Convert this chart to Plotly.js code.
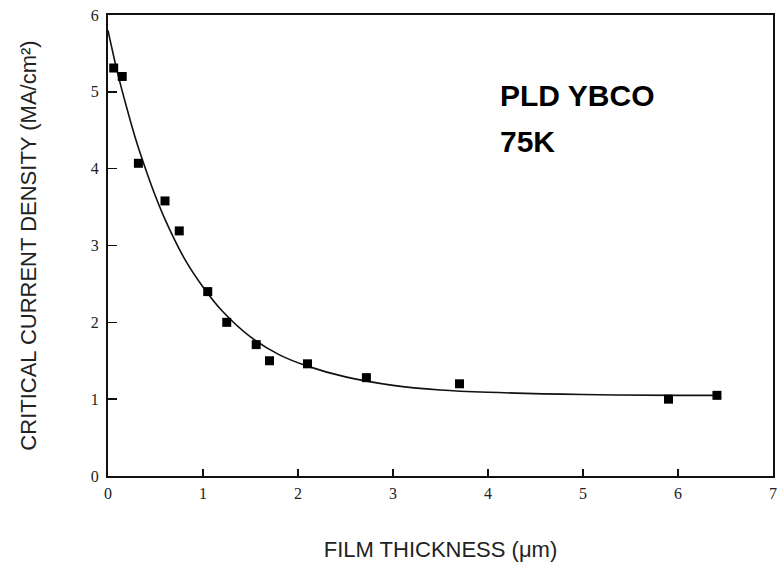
<!DOCTYPE html>
<html>
<head>
<meta charset="utf-8">
<script src="https://cdn.plot.ly/plotly-3.0.1.min.js"></script>
<style>html,body{margin:0;padding:0;background:#fff;}#chart{width:780px;height:564px;}</style>
</head>
<body>
<div id="chart"></div>
<script>
// Measured data points
const thickness = [0.06, 0.15, 0.32, 0.60, 0.75, 1.05, 1.25, 1.56, 1.70, 2.10, 2.72, 3.70, 5.90, 6.41];
const jc        = [5.31, 5.20, 4.07, 3.58, 3.19, 2.40, 2.00, 1.71, 1.50, 1.46, 1.28, 1.20, 1.00, 1.05];

// Fitted curve
const fitX = [0, 0.1, 0.2, 0.3, 0.4, 0.5, 0.6, 0.8, 1.0, 1.2, 1.5, 1.8, 2.1, 2.5, 3.0, 3.5, 4.0, 5.0, 6.0, 6.4];
const fitY = [5.8, 5.25, 4.78, 4.35, 3.98, 3.64, 3.34, 2.84, 2.46, 2.15, 1.81, 1.58, 1.43, 1.29, 1.18, 1.12, 1.09, 1.06, 1.05, 1.05];

const xTicks = [0, 1, 2, 3, 4, 5, 6, 7];
const yTicks = [0, 1, 2, 3, 4, 5, 6];
const labelLines = ["PLD YBCO", "75K"];
const labelY = [4.95, 4.36];

const traces = [
  {x: fitX, y: fitY, mode: 'lines', line: {color: '#111', width: 1.6, shape: 'spline'}, hoverinfo: 'skip', showlegend: false},
  {x: thickness, y: jc, mode: 'markers', marker: {symbol: 'square', size: 9, color: '#000'}, showlegend: false}
];

const tickFont = {family: '"Liberation Serif", "Times New Roman", serif', size: 16, color: '#222'};
const titleFont = {family: '"Liberation Sans", Arial, sans-serif', size: 22, color: '#222'};

const layout = {
  width: 780, height: 564,
  margin: {l: 108, r: 7, t: 15, b: 88},
  paper_bgcolor: '#fff', plot_bgcolor: '#fff',
  xaxis: {
    range: [0, 7], tickvals: xTicks, ticktext: xTicks.map(String),
    showgrid: false, zeroline: false, showline: true, linecolor: '#111', linewidth: 2, mirror: true,
    ticks: 'inside', ticklen: 7, tickwidth: 1.5, tickcolor: '#111',
    tickfont: tickFont, ticklabelstandoff: 2,
    title: {text: 'FILM THICKNESS (μm)', font: titleFont, standoff: 40}
  },
  yaxis: {
    range: [0, 6], tickvals: yTicks, ticktext: yTicks.map(String),
    showgrid: false, zeroline: false, showline: true, linecolor: '#111', linewidth: 2, mirror: true,
    ticks: 'inside', ticklen: 9, tickwidth: 1.5, tickcolor: '#111',
    tickfont: tickFont, ticklabelstandoff: 4,
    title: {text: 'CRITICAL CURRENT DENSITY (MA/cm²)', font: titleFont, standoff: 48}
  },
  annotations: labelLines.map((t, i) => ({
    x: 4.1, y: labelY[i], xref: 'x', yref: 'y', text: '<b>' + t + '</b>',
    showarrow: false, xanchor: 'left', yanchor: 'middle',
    font: {family: '"Liberation Sans", Arial, sans-serif', size: 30, color: '#000'}
  }))
};

Plotly.newPlot('chart', traces, layout, {displayModeBar: false, staticPlot: true});
</script>
</body>
</html>
